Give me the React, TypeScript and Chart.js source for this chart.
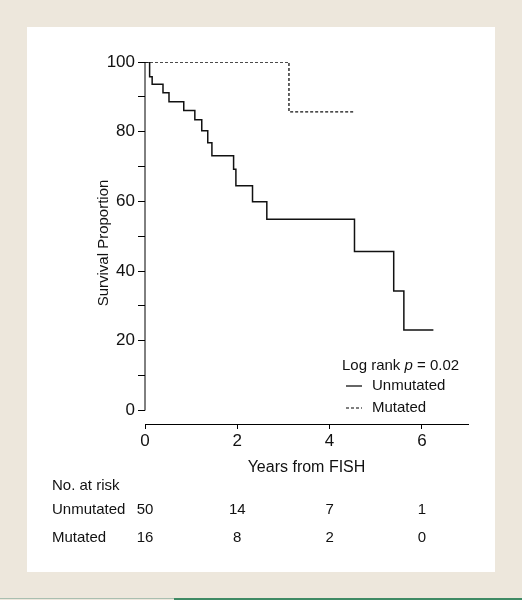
import React, { useEffect, useRef } from "react";
import { Chart, registerables } from "chart.js";

Chart.register(...registerables);

// ---- data ----
const unmutatedTimes = [0, 0.1, 0.155, 0.39, 0.52, 0.84, 1.08, 1.23, 1.36, 1.45, 1.92, 1.97, 2.33, 2.64, 4.54, 5.39, 5.61, 6.25];
const unmutatedSurv = [100, 95.8, 93.6, 91.2, 88.6, 86.1, 83.4, 80.3, 76.8, 73.1, 69.2, 64.5, 59.9, 54.9, 45.6, 34.3, 23.1, 23.1];
const mutatedTimes = [0, 3.12, 4.52];
const mutatedSurv = [100, 85.7, 85.7];
const xTickValues = [0, 2, 4, 6];
const yTickValues = [0, 10, 20, 30, 40, 50, 60, 70, 80, 90, 100];
const riskLabels = ["Unmutated", "Mutated"];
const riskUnmutated = [50, 14, 7, 1];
const riskMutated = [16, 8, 2, 0];
const seriesNames = ["Unmutated", "Mutated"];
const logRankP = "0.02";

const FONT = "'Liberation Sans Narrow', 'Arial Narrow', 'Liberation Sans', Arial, sans-serif";

const overlayPlugin = {
  id: "overlay",
  afterDraw(chart: any) {
    const ctx = chart.ctx as CanvasRenderingContext2D;
    const xs = chart.scales.x;
    const ys = chart.scales.y;
    const left = chart.chartArea.left;
    ctx.save();
    // y axis line from 0 to 100
    ctx.strokeStyle = "#000";
    ctx.lineWidth = 1;
    ctx.beginPath();
    ctx.moveTo(left, ys.getPixelForValue(100));
    ctx.lineTo(left, ys.getPixelForValue(0));
    ctx.stroke();

    // legend
    ctx.fillStyle = "#111";
    ctx.textBaseline = "middle";
    ctx.font = `15px ${FONT}`;
    let tx = 342;
    const ty = 366;
    ctx.fillText("Log rank ", tx, ty);
    tx += ctx.measureText("Log rank ").width;
    ctx.font = `italic 15px ${FONT}`;
    ctx.fillText("p", tx, ty);
    tx += ctx.measureText("p").width;
    ctx.font = `15px ${FONT}`;
    ctx.fillText(" = " + logRankP, tx, ty);

    const rows = [386, 408];
    const dashes = [[], [3, 2]];
    rows.forEach((ry, i) => {
      ctx.setLineDash(dashes[i]);
      ctx.lineWidth = 1.2;
      ctx.beginPath();
      ctx.moveTo(346, ry);
      ctx.lineTo(362, ry);
      ctx.stroke();
      ctx.setLineDash([]);
      ctx.fillText(seriesNames[i], 372, ry);
    });

    // at-risk table
    ctx.textAlign = "left";
    ctx.fillText("No. at risk", 52, 486);
    const tableRows = [riskUnmutated, riskMutated];
    const rowY = [510, 538];
    tableRows.forEach((vals, r) => {
      ctx.textAlign = "left";
      ctx.fillText(riskLabels[r], 52, rowY[r]);
      ctx.textAlign = "center";
      vals.forEach((v, k) => {
        ctx.fillText(String(v), xs.getPixelForValue(xTickValues[k]), rowY[r]);
      });
    });
    ctx.restore();
  },
};

export default function App() {
  const canvasRef = useRef<HTMLCanvasElement | null>(null);

  useEffect(() => {
    if (!canvasRef.current) return;
    const chart = new Chart(canvasRef.current, {
      type: "line",
      data: {
        datasets: [
          {
            label: seriesNames[0],
            data: unmutatedTimes.map((t, i) => ({ x: t, y: unmutatedSurv[i] })),
            borderColor: "#111",
            borderWidth: 1.5,
            stepped: true,
            pointRadius: 0,
            fill: false,
          },
          {
            label: seriesNames[1],
            data: mutatedTimes.map((t, i) => ({ x: t, y: mutatedSurv[i] })),
            borderColor: "#111",
            borderWidth: 1.3,
            borderDash: [3, 2],
            stepped: true,
            pointRadius: 0,
            fill: false,
          },
        ],
      },
      options: {
        animation: false,
        responsive: false,
        devicePixelRatio: 1,
        layout: { padding: { left: 0, top: 62, right: 54, bottom: 120 } },
        plugins: { legend: { display: false }, tooltip: { enabled: false } },
        scales: {
          x: {
            type: "linear",
            min: 0,
            max: 7,
            afterBuildTicks: (s: any) => {
              s.ticks = xTickValues.map((v) => ({ value: v }));
            },
            afterFit: (s: any) => {
              s.height = 56;
            },
            grid: { drawOnChartArea: false, drawTicks: true, tickLength: 5, color: "#000", tickColor: "#000" },
            border: { display: true, color: "#000", width: 1 },
            ticks: { color: "#111", font: { size: 17, family: FONT }, padding: 2, maxRotation: 0 },
            title: {
              display: true,
              text: "Years from FISH",
              color: "#111",
              font: { size: 16, family: FONT },
              padding: { top: 0, bottom: 3 },
            },
          },
          y: {
            type: "linear",
            min: -3.87,
            max: 100,
            afterBuildTicks: (s: any) => {
              s.ticks = yTickValues.map((v) => ({ value: v }));
            },
            afterFit: (s: any) => {
              s.width = 145;
            },
            grid: { drawOnChartArea: false, drawTicks: true, tickLength: 7, color: "#000", tickColor: "#000" },
            border: { display: false },
            ticks: {
              color: "#111",
              font: { size: 17, family: FONT },
              padding: 3,
              callback: (v: any) => (Number(v) % 20 === 0 ? String(v) : ""),
            },
            title: {
              display: true,
              text: "Survival Proportion",
              color: "#111",
              font: { size: 15, family: FONT },
              padding: { top: 95, bottom: 0 },
            },
          },
        },
      },
      plugins: [overlayPlugin],
    } as any);
    return () => chart.destroy();
  }, []);

  return (
    <div style={{ position: "absolute", left: 0, top: 0, width: 522, height: 600, background: "#ede7dc", overflow: "hidden" }}>
      <div style={{ position: "absolute", left: 27, top: 27, width: 468, height: 545, background: "#ffffff" }} />
      <div style={{ position: "absolute", left: 0, top: 598, width: 174, height: 1, background: "#a9bfb0" }} />
      <div style={{ position: "absolute", left: 174, top: 598, width: 348, height: 2, background: "#3f8a64" }} />
      <canvas ref={canvasRef} width={522} height={600} style={{ position: "absolute", left: 0, top: 0, width: 522, height: 600 }} />
    </div>
  );
}
